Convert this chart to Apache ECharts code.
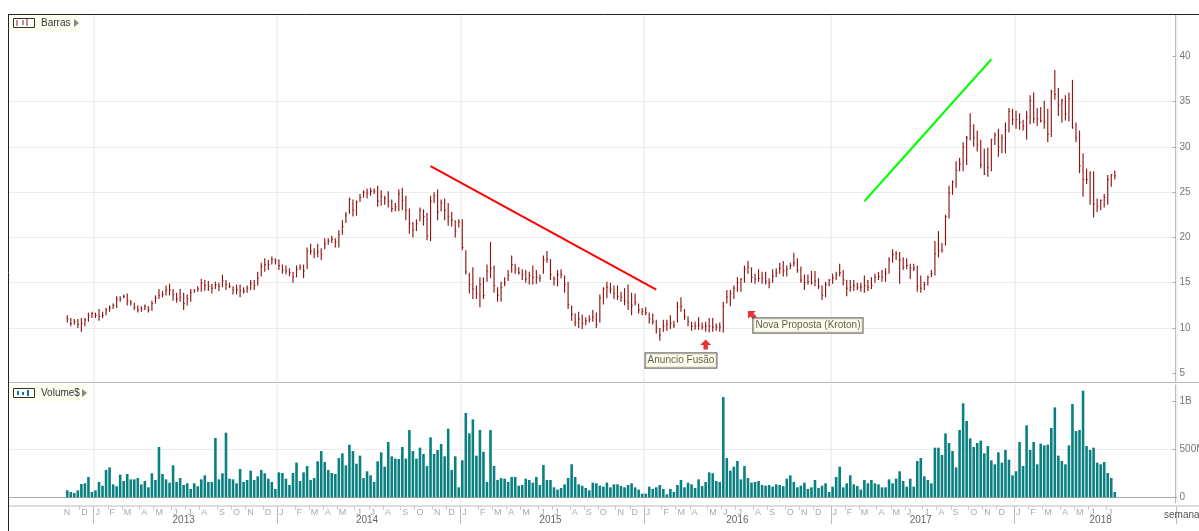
<!DOCTYPE html>
<html><head><meta charset="utf-8">
<style>html,body{margin:0;padding:0;background:#fff}#c{width:1199px;height:531px}</style>
<script src="https://cdn.jsdelivr.net/npm/echarts@6/dist/echarts.min.js"></script>
</head><body><div id="c"></div>
<script>
const firstBarWeek = '2012-11-05';
const padBefore = 16, padAfter = 17;
const high = [
11.4,11.1,11.0,11.0,11.1,11.1,11.7,11.8,11.7,12.1,
11.8,12.2,12.5,12.7,13.5,13.5,13.7,13.8,13.1,12.8,
12.5,12.4,12.6,12.4,13.0,13.6,14.3,14.1,14.7,14.9,
14.3,13.9,14.3,13.9,13.7,14.3,14.3,14.6,15.4,15.3,
15.2,14.9,15.1,15.0,15.9,15.3,15.0,14.6,14.8,14.8,
14.5,14.7,15.3,15.3,16.2,17.2,17.7,17.5,17.9,17.7,
17.6,17.0,16.9,16.6,16.2,16.9,17.0,17.0,18.9,19.3,
18.8,19.3,18.8,19.9,19.9,20.2,19.9,20.8,21.9,22.8,
24.4,24.2,24.1,24.8,25.2,25.4,25.5,25.4,25.7,25.2,
24.6,25.1,24.2,23.8,25.3,25.5,24.6,23.2,21.7,22.0,
23.3,23.1,22.7,24.6,25.0,25.3,24.2,24.3,23.8,22.8,
21.9,22.0,22.0,18.6,16.1,16.7,14.7,15.6,15.6,17.0,
19.5,16.9,14.5,15.1,15.6,16.4,18.0,17.1,16.7,16.5,
16.4,16.2,16.9,16.4,15.9,18.0,18.5,17.6,15.7,16.4,
16.5,15.8,15.1,12.5,11.6,11.8,11.5,11.2,11.4,12.0,
11.7,13.7,14.5,15.1,15.0,14.7,14.7,14.0,14.4,14.8,
13.9,13.8,12.7,12.2,12.3,11.7,11.6,10.9,10.0,10.9,
10.9,11.4,10.8,12.9,13.4,12.1,11.3,10.7,10.7,11.2,
10.6,10.7,11.1,11.1,10.5,10.6,12.9,14.2,14.2,14.7,
15.6,15.5,16.9,17.4,16.7,16.0,16.5,16.2,16.2,15.5,
16.5,16.6,17.2,17.4,16.9,17.2,18.3,17.7,16.8,15.9,
15.9,16.3,16.3,15.5,14.7,15.1,15.4,16.0,16.2,17.1,
16.4,15.3,15.3,15.3,15.0,15.0,15.8,15.3,15.6,16.0,
16.2,16.4,16.6,17.8,18.7,18.5,18.4,17.8,17.7,17.1,
17.1,16.9,15.8,15.1,15.8,16.4,19.6,20.7,19.4,22.5,
25.7,26.3,28.4,28.8,30.5,31.2,33.7,32.5,31.8,30.8,
29.8,29.9,30.9,31.6,32.0,31.4,32.7,34.3,34.2,34.0,
33.7,33.0,34.0,35.7,36.0,34.3,34.4,35.1,34.2,36.3,
38.5,36.5,35.3,35.7,36.0,37.4,32.7,31.8,29.3,27.6,
27.3,27.3,24.3,24.2,24.8,26.9,27.0,27.4];
const low = [
10.6,10.2,10.4,10.0,9.6,10.2,10.7,11.1,11.1,10.8,
11.1,11.4,11.8,12.1,12.2,12.9,13.3,12.5,12.5,12.0,
11.7,11.8,12.0,11.7,11.9,12.7,13.2,13.4,13.6,13.6,
13.0,12.8,12.9,12.0,12.5,12.9,13.9,14.0,14.0,14.1,
14.1,13.8,14.3,14.1,14.5,14.2,14.4,13.7,13.7,13.4,
13.8,13.9,14.2,14.2,14.7,15.7,16.2,16.4,17.0,17.0,
16.4,16.0,15.9,15.7,15.0,15.6,16.4,15.5,16.5,18.1,
17.7,17.8,17.5,18.7,19.2,19.4,18.9,18.9,20.3,21.6,
22.6,22.3,22.4,23.9,24.4,24.3,24.6,24.8,23.4,23.5,
23.6,23.3,22.8,22.9,22.9,23.0,21.9,20.4,20.0,20.7,
21.8,21.3,19.7,19.6,23.8,21.9,22.9,21.9,21.3,21.2,
20.0,21.1,18.6,15.9,13.8,13.2,13.2,12.3,13.2,15.1,
15.5,13.9,12.9,12.9,14.6,15.2,16.1,16.0,15.9,15.3,
15.0,14.8,14.8,14.9,15.1,16.0,17.2,15.3,14.7,14.6,
15.5,13.9,12.1,10.8,10.2,10.0,9.9,10.3,10.6,10.7,
10.0,10.6,12.6,13.3,13.8,13.2,13.1,12.9,12.5,12.0,
11.4,12.5,11.6,11.4,11.4,10.5,10.4,9.4,8.6,9.6,
9.7,9.9,10.0,10.6,11.8,10.9,10.2,9.7,9.8,9.8,
9.8,9.6,9.5,9.6,9.7,9.6,9.5,12.7,12.4,13.2,
14.0,14.0,15.0,16.0,15.0,14.9,15.1,14.9,14.8,14.4,
15.0,15.6,16.0,15.7,15.7,16.5,16.8,16.1,15.0,14.2,
14.8,14.8,14.6,14.3,13.1,13.4,14.6,14.9,15.3,15.7,
14.7,13.5,14.0,14.1,14.2,14.0,13.9,14.1,14.3,15.0,
15.3,15.1,15.1,16.0,17.2,17.5,14.9,16.4,16.5,15.4,
16.3,14.0,13.9,14.2,14.7,15.6,15.8,17.8,18.3,19.1,
22.1,24.7,25.5,27.3,27.3,28.0,30.7,30.0,29.5,27.6,
26.9,26.7,27.3,30.2,28.9,29.3,29.3,31.6,32.4,32.0,
31.9,31.8,30.8,32.5,32.6,32.3,32.7,32.0,30.5,31.1,
35.2,33.4,32.7,32.9,32.8,32.0,30.5,27.1,24.5,25.9,
23.6,22.2,22.8,23.0,23.3,23.6,25.6,26.4];
const close = [
11.0,10.5,10.7,10.4,10.5,10.9,11.3,11.6,11.4,11.3,
11.4,12.0,12.2,12.5,13.2,13.2,13.5,13.0,12.8,12.3,
12.0,12.1,12.4,12.0,12.7,13.3,13.6,13.7,14.2,14.2,
13.7,13.2,13.4,12.7,13.2,13.9,14.1,14.3,14.9,14.7,
14.6,14.4,14.8,14.6,15.2,14.8,14.6,14.2,14.2,14.1,
14.1,14.4,14.9,14.7,15.5,16.8,17.0,17.0,17.6,17.4,
16.9,16.4,16.3,16.1,15.6,16.5,16.7,16.3,18.5,18.5,
18.2,18.4,18.1,19.3,19.6,19.8,19.5,20.3,21.2,22.5,
24.2,23.0,23.9,24.4,25.0,24.9,25.1,25.1,24.0,24.5,
24.3,24.0,23.2,23.4,24.8,24.1,23.0,21.5,20.8,21.5,
23.0,22.3,20.2,24.0,24.6,22.8,23.8,23.0,22.3,21.9,
20.7,21.7,18.9,16.2,14.8,14.3,13.8,14.8,13.6,16.3,
16.6,14.7,13.6,14.5,15.0,15.8,17.0,16.5,16.1,15.9,
15.4,15.8,15.6,15.6,15.5,17.5,17.6,15.9,15.4,15.9,
15.9,14.8,12.6,11.5,10.6,11.0,10.5,10.8,11.0,11.2,
10.4,13.3,14.3,14.5,14.3,13.8,13.5,13.4,13.0,12.8,
12.5,12.8,12.0,11.8,11.7,11.0,10.7,10.0,9.2,10.2,
10.4,10.5,10.3,12.3,12.4,11.3,10.7,10.2,10.2,10.3,
10.1,10.2,10.2,10.1,10.1,10.1,12.4,13.4,13.8,14.4,
15.0,15.4,16.5,16.7,15.6,15.4,15.5,15.5,15.2,15.0,
15.7,16.1,16.6,16.3,16.5,16.9,17.2,16.4,15.3,15.0,
15.1,15.0,15.2,14.6,13.6,14.8,15.3,15.5,15.9,16.1,
15.3,14.4,14.5,14.7,14.5,14.5,14.7,14.5,14.7,15.6,
15.7,15.6,16.0,17.5,18.1,18.2,17.5,16.7,16.9,16.6,
16.6,14.6,14.4,14.8,15.6,16.0,18.2,18.5,18.6,22.3,
24.9,26.1,27.4,28.1,30.0,31.0,32.3,31.0,30.2,28.0,
27.0,27.7,30.8,31.3,30.0,31.0,31.9,33.9,33.0,33.0,
32.7,32.3,33.3,35.1,33.1,33.1,32.9,32.8,31.4,36.1,
35.8,34.6,35.1,33.6,35.3,32.1,31.0,27.9,26.4,26.4,
27.1,23.7,23.4,24.1,24.4,26.4,26.9,26.8];
const volume = [
73,55,45,73,139,146,212,55,73,160,
121,285,312,135,115,236,170,243,187,187,
201,135,170,104,250,180,524,243,187,153,
333,160,201,128,146,87,146,115,187,229,
160,160,618,187,250,673,194,187,146,295,
160,180,278,180,219,285,250,194,160,87,
260,253,194,128,253,361,170,260,326,180,
201,375,482,368,285,253,243,409,458,333,
548,482,350,434,201,271,229,160,375,468,
319,576,427,403,399,524,403,701,482,403,
517,451,326,625,451,493,555,427,715,285,
427,104,385,878,666,812,434,701,475,160,
701,326,180,201,194,160,212,212,121,128,
194,180,153,212,128,337,180,180,104,80,
97,135,201,344,212,135,121,97,73,153,
146,121,111,153,104,135,135,118,104,128,
146,104,80,38,38,111,87,104,128,87,
31,87,55,128,180,104,153,135,97,187,
118,160,260,250,170,160,1044,409,278,319,
378,187,326,201,153,160,170,128,121,128,
111,135,128,115,194,229,160,104,121,153,
87,104,180,97,121,146,55,111,212,319,
104,146,229,135,118,80,180,146,180,146,
135,104,104,187,146,194,271,170,111,194,
111,378,409,219,180,146,517,517,441,666,
566,482,312,701,979,795,614,524,566,590,
458,534,385,344,468,361,493,392,229,271,
576,326,750,493,576,344,559,541,548,722,
937,434,378,344,541,972,690,701,1110,534,
493,517,361,344,368,253,201,55];
const priceTicks = [5,10,15,20,25,30,35,40];
const volumeTicks = [0,500,1000];
const volumeTickText = {0:'0',500:'500M',1000:'1B'};
const monthLetters = ['J','F','M','A','M','J','J','A','S','O','N','D'];
const yearLabels = {'2013-06-24':'2013','2014-06-23':'2014','2015-06-22':'2015','2016-06-27':'2016','2017-06-26':'2017','2018-06-18':'2018'};
const yearStarts = ['2012-12-31','2013-12-30','2014-12-29','2015-12-28','2017-01-02','2018-01-01'];
const redTrend = [['2014-10-27',27.87],['2016-01-18',14.23]];
const greenTrend = [['2017-03-06',24.0],['2017-11-13',39.67]];
const notes = [
  {week:'2016-04-25', price:8.18, text:'Anuncio Fusão', labelWeek:'2016-03-07', labelPrice:6.41, rotate:0},
  {week:'2016-07-25', price:11.49, text:'Nova Proposta (Kroton)', labelWeek:'2016-11-14', labelPrice:10.28, rotate:45}
];

const DAY = 86400000;
const iso = t => new Date(t).toISOString().slice(0,10);
const t0 = Date.parse(firstBarWeek+'T00:00:00Z');
const nBars = high.length, nCats = padBefore + nBars + padAfter;
const weeks = Array.from({length:nCats},(_,i)=>iso(t0+(i-padBefore)*7*DAY));
const monthAt = {};
weeks.forEach((w,i)=>{
  if(i<padBefore-1 || i>=padBefore+nBars) return;
  const t = Date.parse(w+'T00:00:00Z'), d = new Date(t), fri = new Date(t+4*DAY);
  if(d.getUTCDate()<=3) monthAt[i]=monthLetters[d.getUTCMonth()];
  else if(fri.getUTCMonth()!==d.getUTCMonth()) monthAt[i]=monthLetters[fri.getUTCMonth()];
});
const isYearStart = i => yearStarts.includes(weeks[i]);
const ohlc = high.map((h,i)=>[i+padBefore,h,low[i],close[i]]);
const vol = weeks.map((_,i)=> (i>=padBefore && i<padBefore+nBars) ? volume[i-padBefore] : null);

const L = 9.07, W = nCats*3.527;
const gridC = '#ececec';
const baseX = {type:'category',data:weeks,boundaryGap:true,axisLabel:{show:false},axisTick:{show:false},axisLine:{show:false},
  splitLine:{show:true,interval:(i)=>isYearStart(i),lineStyle:{color:'#eeeeee',width:1.5}}};
const axisLabel = {color:'#777',fontSize:10,fontFamily:'Liberation Sans',margin:4};
const chart = echarts.init(document.getElementById('c'),null,{renderer:'canvas'});
const badge = (top,label,icon,w,tri)=>({type:'group',silent:true,children:[
  {type:'rect',shape:{x:9,y:top,width:w,height:16},style:{fill:'#fffff0'}},
  {type:'rect',shape:{x:13.5,y:top+3.5,width:21,height:9},style:{fill:'#fff',stroke:'#333',lineWidth:1}},
  ...icon.map(a=>({type:a[3]?'rect':'line',
     shape:a[3]?{x:a[0],y:top+a[1],width:2,height:a[2]}:{x1:a[0],y1:top+a[1],x2:a[0],y2:top+a[1]+a[2]},
     style:a[3]?{fill:a[3]}:{stroke:'#8b1a1a',lineWidth:1}})),
  {type:'text',style:{x:41,y:top+3,text:label,fill:'#333',font:'10px "Liberation Sans"'}},
  {type:'polygon',shape:{points:[[tri,top+4],[tri+5,top+8],[tri,top+12]]},style:{fill:'#888'}}
]});
const gridBase = {left:L,width:W,outerBoundsMode:'none',containLabel:false};
chart.setOption({
  animation:false,
  backgroundColor:'#fff',
  grid:[
    {...gridBase,top:15,height:367},
    {...gridBase,top:385,height:118},
    {...gridBase,top:505,height:1}
  ],
  xAxis:[
    {...baseX,gridIndex:0},
    {...baseX,gridIndex:1,axisLine:{show:true,onZero:true,lineStyle:{color:'#aaaaaa',width:1}}},
    {type:'category',data:weeks,gridIndex:2,boundaryGap:true,position:'bottom',offset:3,axisLine:{show:false},splitLine:{show:false},
      axisTick:{show:true,length:4,interval:(i)=>i>=padBefore&&monthAt[i]!==undefined,lineStyle:{color:'#cccccc'}},
      axisLabel:{show:true,interval:(i)=>monthAt[i]!==undefined,formatter:(v,i)=>monthAt[i]||'',align:'left',margin:-1,color:'#aaaaaa',fontSize:9,fontFamily:'Liberation Sans',hideOverlap:false}},
    {type:'category',data:weeks,gridIndex:2,boundaryGap:true,position:'bottom',axisLine:{show:true,lineStyle:{color:'#dddddd',width:2}},splitLine:{show:false},
      axisTick:{show:true,length:18,interval:(i)=>isYearStart(i),lineStyle:{color:'#bbbbbb'}},
      axisLabel:{show:true,interval:(i)=>yearLabels[weeks[i]]!==undefined,formatter:(v)=>yearLabels[v]||'',margin:9,color:'#666',fontSize:10,fontFamily:'Liberation Sans',hideOverlap:false}}
  ],
  yAxis:[
    {type:'value',gridIndex:0,position:'right',offset:-1,min:4.04,max:44.56,splitNumber:8,
      axisLine:{show:true,lineStyle:{color:'#bbbbbb'}},
      axisTick:{show:true,inside:true,length:3,customValues:priceTicks,lineStyle:{color:'#aaaaaa'}},
      axisLabel:{...axisLabel,customValues:priceTicks},
      splitLine:{show:true,showMinLine:false,showMaxLine:false,lineStyle:{color:gridC}}},
    {type:'value',gridIndex:1,position:'right',offset:-1,min:-59.4,max:1170,splitNumber:2,
      axisLine:{show:true,onZero:false,lineStyle:{color:'#bbbbbb'}},
      axisTick:{show:true,inside:true,length:3,customValues:volumeTicks,lineStyle:{color:'#aaaaaa'}},
      axisLabel:{...axisLabel,customValues:volumeTicks,formatter:(v)=>volumeTickText[v]},
      splitLine:{show:true,showMinLine:false,showMaxLine:false,lineStyle:{color:gridC}}},
    {type:'value',gridIndex:2,show:false}
  ],
  series:[
    {type:'custom',name:'Barras',xAxisIndex:0,yAxisIndex:0,data:ohlc,encode:{x:0,y:[1,2,3]},z:3,silent:true,
      renderItem:(p,api)=>{
        const x=api.value(0), a=api.coord([x,api.value(1)]), b=api.coord([x,api.value(2)]), c=api.coord([x,api.value(3)]);
        const s={stroke:'#8f1414',lineWidth:1.15};
        return {type:'group',children:[
          {type:'line',shape:{x1:a[0],y1:a[1],x2:b[0],y2:b[1]},style:s},
          {type:'line',shape:{x1:a[0],y1:c[1],x2:a[0]+1.2,y2:c[1]},style:{stroke:'#8f1414',lineWidth:0.9}}
        ]};
      }},
    {type:'bar',name:'Volume$',xAxisIndex:1,yAxisIndex:1,data:vol,barWidth:2.6,itemStyle:{color:'#0b8080'},silent:true,z:3},
    {type:'line',xAxisIndex:0,yAxisIndex:0,data:redTrend,symbol:'none',lineStyle:{color:'#ff0000',width:2},z:4,silent:true},
    {type:'line',xAxisIndex:0,yAxisIndex:0,data:greenTrend,symbol:'none',lineStyle:{color:'#00ff00',width:2},z:4,silent:true},
    {type:'scatter',xAxisIndex:0,yAxisIndex:0,z:5,silent:true,
      data:notes.map(n=>({value:[n.week,n.price],symbolRotate:n.rotate})),
      symbol:'path://M5 0 L10 5 L7 5 L7 9 L3 9 L3 5 L0 5 Z',symbolSize:[11,10],itemStyle:{color:'#e00000'}},
    {type:'scatter',xAxisIndex:0,yAxisIndex:0,z:6,silent:true,symbolSize:0,
      data:notes.map(n=>({value:[n.labelWeek,n.labelPrice],name:n.text})),
      label:{show:true,position:'inside',formatter:'{b}',color:'#333',fontSize:10,fontFamily:'Liberation Sans',
        backgroundColor:'#ffffe6',borderColor:'#555',borderWidth:1.2,padding:[2,2,2,2]}}
  ],
  graphic:[
    {type:'line',silent:true,z:10,shape:{x1:8,y1:14.5,x2:1199,y2:14.5},style:{stroke:'#222',lineWidth:1}},
    {type:'line',silent:true,z:10,shape:{x1:8.5,y1:14,x2:8.5,y2:531},style:{stroke:'#222',lineWidth:1}},
    {type:'line',silent:true,z:1,shape:{x1:9,y1:382.5,x2:1199,y2:382.5},style:{stroke:'#bbbbbb',lineWidth:1}},
    {type:'line',silent:true,z:1,shape:{x1:1170,y1:506,x2:1199,y2:506},style:{stroke:'#dddddd',lineWidth:2}},
    {type:'text',silent:true,z:10,style:{x:1164,y:510,text:'semana',fill:'#555',font:'10px "Liberation Sans"'}},
    {...badge(15,'Barras',[[17,5,6],[23,5,5],[27,4,7]],71,74),z:10},
    {...badge(385,'Volume$',[[17,6,4,'#0b8080'],[22,7,3,'#0b8080'],[27,5,6,'#0b8080']],79,82),z:10}
  ]
});
</script></body></html>
